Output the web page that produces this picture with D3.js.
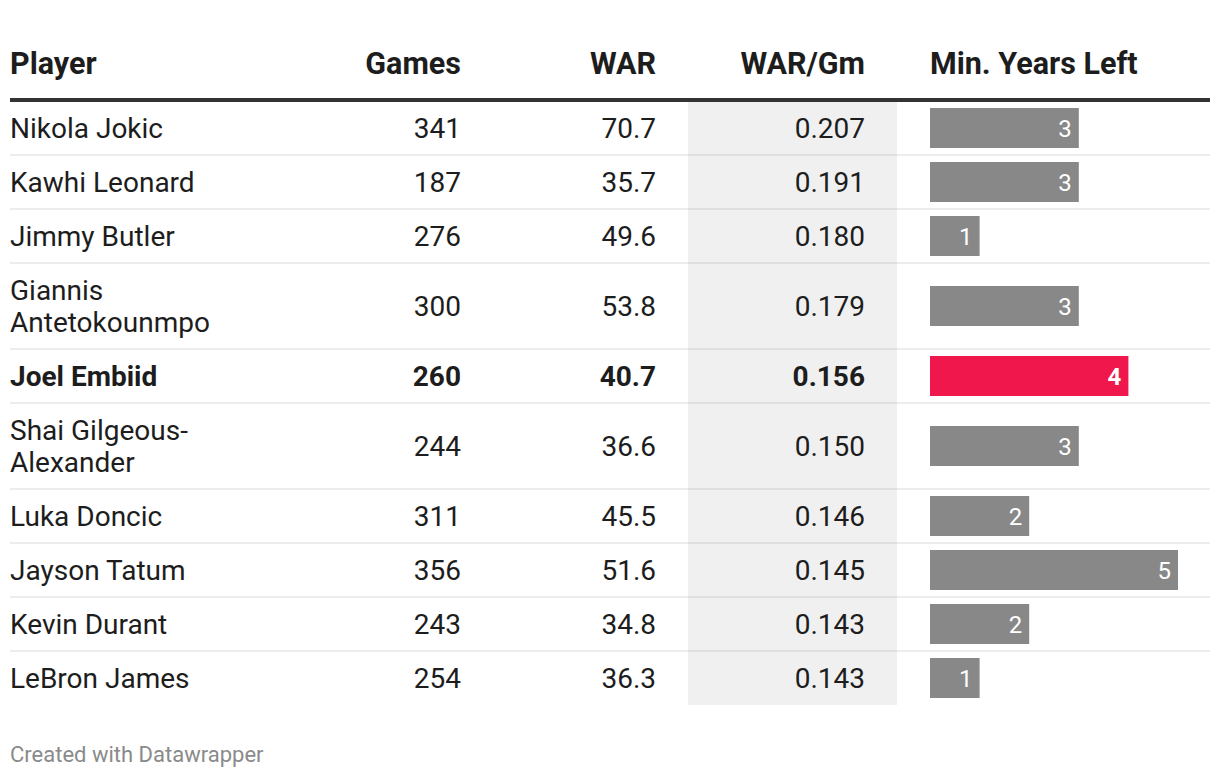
<!DOCTYPE html>
<html>
<head>
<meta charset="utf-8">
<script src="https://cdn.jsdelivr.net/npm/d3@7"></script>
<style>
  html, body { margin: 0; padding: 0; background: #fff; }
  svg text { font-family: Roboto, "Noto Sans", sans-serif; }
</style>
</head>
<body>
<svg id="chart" width="1220" height="780"></svg>
<script>
const headers = ["Player", "Games", "WAR", "WAR/Gm", "Min. Years Left"];
const players = ["Nikola Jokic", "Kawhi Leonard", "Jimmy Butler", "Giannis Antetokounmpo", "Joel Embiid",
  "Shai Gilgeous-Alexander", "Luka Doncic", "Jayson Tatum", "Kevin Durant", "LeBron James"];
const games = [341, 187, 276, 300, 260, 244, 311, 356, 243, 254];
const war = [70.7, 35.7, 49.6, 53.8, 40.7, 36.6, 45.5, 51.6, 34.8, 36.3];
const warPerGame = [0.207, 0.191, 0.180, 0.179, 0.156, 0.150, 0.146, 0.145, 0.143, 0.143];
const yearsLeft = [3, 3, 1, 3, 4, 3, 2, 5, 2, 1];
const highlighted = ["Joel Embiid"];
const footer = "Created with Datawrapper";

const svg = d3.select("#chart");
const textColor = "#1d1d1d";
const fontSize = 28;
const lineH = 32;

// wrap names into lines (break at spaces and after hyphens)
const measure = svg.append("text").attr("font-size", fontSize).attr("visibility", "hidden");
function wrap(name, maxW) {
  const tokens = name.match(/[^\s-]+-?/g);
  const lines = [];
  let cur = "";
  tokens.forEach(tk => {
    const sep = (cur === "" || cur.endsWith("-")) ? "" : " ";
    const trial = cur + sep + tk;
    measure.text(trial);
    if (cur !== "" && measure.node().getComputedTextLength() > maxW) {
      lines.push(cur);
      cur = tk;
    } else cur = trial;
  });
  if (cur) lines.push(cur);
  return lines;
}
const rows = players.map((p, i) => ({
  name: p, lines: wrap(p, 240), games: games[i], war: war[i], wpg: warPerGame[i],
  years: yearsLeft[i], hl: highlighted.includes(p)
}));
measure.remove();

// row layout
const tableTop = 101;
let y0 = tableTop;
rows.forEach(r => {
  r.h = 54 + (r.lines.length - 1) * lineH;
  r.top = y0; r.cy = y0 + r.h / 2; y0 += r.h;
});
const tableBottom = y0;

// columns
const col = { player: 10, games: 461, war: 656, wpg: 865, bar: 930 };
const x = d3.scaleLinear().domain([0, 5]).range([col.bar, 1178]);

// WAR/Gm highlight column background
svg.append("rect").attr("x", 688).attr("y", tableTop).attr("width", 209)
  .attr("height", tableBottom - tableTop).attr("fill", "#f0f0f0");

// header
const hdrY = 74;
const hdrAnchors = [["start", col.player], ["end", col.games], ["end", col.war], ["end", col.wpg], ["start", col.bar]];
svg.selectAll("text.hdr").data(headers).join("text").attr("class", "hdr")
  .attr("x", (d, i) => hdrAnchors[i][1]).attr("y", hdrY)
  .attr("text-anchor", (d, i) => hdrAnchors[i][0])
  .attr("font-size", 30.5).attr("font-weight", 700).attr("fill", textColor).text(d => d);
svg.append("rect").attr("x", 10).attr("y", 98).attr("width", 1200).attr("height", 4).attr("fill", "#333");

// separators
svg.selectAll("rect.sep").data(rows.slice(0, -1)).join("rect").attr("class", "sep")
  .attr("x", 10).attr("width", 1200).attr("y", d => d.top + d.h - 1).attr("height", 2)
  .attr("fill", "rgba(0,0,0,0.07)");

const g = svg.selectAll("g.row").data(rows).join("g").attr("class", "row");
const base = d => d.cy + 10;

// player names
g.append("text").attr("x", col.player).attr("font-size", fontSize)
  .attr("font-weight", d => d.hl ? 700 : 400).attr("fill", textColor)
  .each(function(d) {
    const t = d3.select(this);
    const first = base(d) - (d.lines.length - 1) * lineH / 2;
    d.lines.forEach((ln, i) => t.append("tspan").attr("x", col.player).attr("y", first + i * lineH).text(ln));
  });

const num = (key, xpos, fmt) => g.append("text").attr("x", xpos).attr("y", base)
  .attr("text-anchor", "end").attr("font-size", fontSize)
  .attr("font-weight", d => d.hl ? 700 : 400).attr("fill", textColor).text(d => fmt(d[key]));
num("games", col.games, d3.format("d"));
num("war", col.war, d3.format(".1f"));
num("wpg", col.wpg, d3.format(".3f"));

// bars
g.append("rect").attr("x", x(0)).attr("y", d => d.cy - 20).attr("height", 40)
  .attr("width", d => x(d.years) - x(0)).attr("fill", d => d.hl ? "#ef174c" : "#888888");
g.append("text").attr("x", d => x(d.years) - 7).attr("y", d => d.cy + 9)
  .attr("text-anchor", "end").attr("font-size", 24).attr("fill", "#fff")
  .attr("font-weight", d => d.hl ? 700 : 400).text(d => d.years);

// footer
svg.append("text").attr("x", 10).attr("y", 762).attr("font-size", 22).attr("fill", "#8a8a8a").text(footer);
</script>
</body>
</html>
